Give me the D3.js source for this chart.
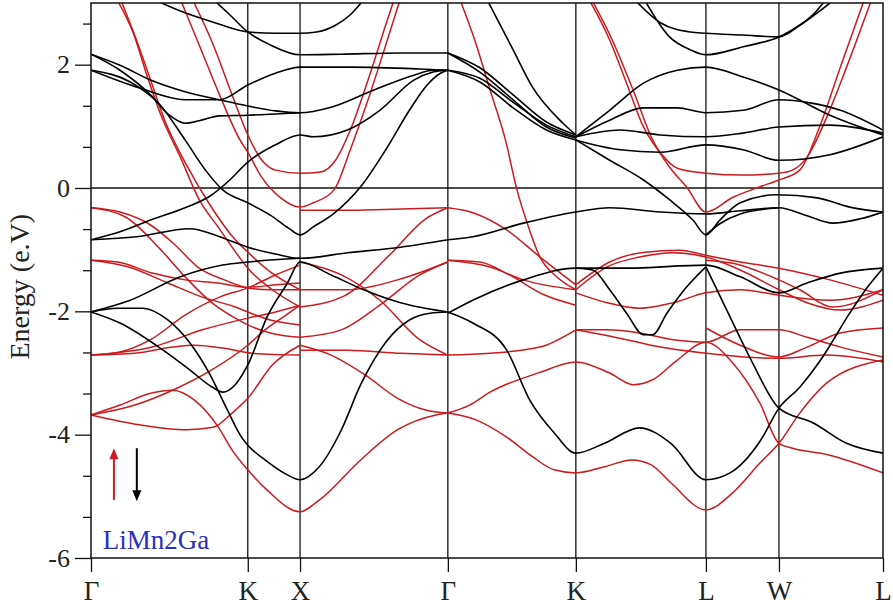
<!DOCTYPE html>
<html><head><meta charset="utf-8">
<script src="https://cdn.jsdelivr.net/npm/d3@7/dist/d3.min.js"></script>
<style>body{margin:0;background:#fff}svg{display:block}</style>
</head><body>
<svg id="chart" width="893" height="613"></svg>
<script>
// ---------- data ----------
const kLabels = ["Γ","K","X","Γ","K","L","W","L"];
const segLengths = [1.0607, 0.3536, 1.0, 0.866, 0.88, 0.494, 0.704];
const yMajorTicks = [-6, -4, -2, 0, 2];
const yDomain = [-6, 3];
const materialLabel = "LiMn2Ga";
const yTitle = "Energy (e.V)";

// each band: [pathParam t (0..7, one unit per segment), energy eV]
const spinUp = [
 [[.16,3.08],[.27,2.51],[.36,1.80],[.44,1.22],[.57,0.50],[.69,-0.19],[.81,-0.63],[.96,-1.17],[1,-1.30],[1.47,-1.65],[2,-1.93]],
 [[.185,3.08],[.29,2.40],[.38,1.75],[.47,1.10],[.61,0.37],[.76,-0.28],[.92,-0.84],[1,-1.04],[1.43,-1.36],[2,-1.65]],
 [[.567,3.08],[.69,2.32],[.82,1.51],[.95,0.78],[1,0.58],[1.24,0.21],[1.63,-0.16],[2,-0.31],[2.09,-0.24],[2.23,-0.03],[2.34,0.62],[2.46,1.43],[2.58,2.32],[2.68,3.08]],
 [[.643,3.08],[.78,2.32],[.90,1.51],[1,0.86],[1.27,0.45],[1.53,0.29],[2,0.24],[2.14,0.26],[2.24,0.45],[2.34,0.94],[2.46,1.75],[2.59,2.72],[2.64,3.08]],
 [[2,-0.36],[2.34,-0.36],[2.68,-0.34],[3,-0.32]],
 [[0,-0.32],[.185,-0.39],[.38,-0.60],[.535,-0.92],[.69,-1.30],[.85,-1.49],[1,-1.62],[1.43,-1.65],[2,-1.65]],
 [[0,-0.32],[.22,-0.47],[.43,-0.96],[.60,-1.44],[.77,-1.86],[.94,-2.14],[1,-2.22],[1.43,-2.35],[2,-2.42]],
 [[0,-1.17],[.17,-1.20],[.39,-1.38],[.60,-1.49],[.81,-1.54],[1,-1.61],[1.53,-1.57],[2,-1.54]],
 [[0,-1.17],[.24,-1.28],[.49,-1.54],[.71,-1.77],[.92,-1.93],[1,-2.01],[1.43,-2.14],[2,-2.22]],
 [[0,-2.71],[.185,-2.66],[.38,-2.46],[.60,-2.06],[.82,-1.77],[1,-1.62],[1.53,-1.41],[2,-1.25]],
 [[0,-2.71],[.28,-2.68],[.52,-2.58],[.66,-2.55],[.85,-2.60],[1.08,-2.68],[2,-2.71]],
 [[0,-2.71],[.39,-2.58],[.71,-2.30],[1,-2.11],[1.53,-2.01],[2,-1.90]],
 [[0,-3.68],[.28,-3.52],[.52,-3.28],[.77,-2.95],[1,-2.55],[1.33,-2.30],[1.73,-2.06],[2,-1.90]],
 [[0,-3.68],[.31,-3.84],[.61,-3.92],[.78,-3.88],[.90,-3.65],[1,-3.41],[1.47,-2.87],[2,-2.55]],
 [[0,-3.68],[.185,-3.52],[.38,-3.33],[.52,-3.28],[.66,-3.44],[.81,-3.87],[.90,-4.25],[1,-4.57],[1.37,-4.90],[2,-5.25],[2.13,-5.06],[2.41,-4.41],[2.66,-3.92],[2.92,-3.68],[3,-3.65]],
 [[2,-2.55],[2.21,-2.71],[2.44,-3.03],[2.66,-3.41],[2.85,-3.60],[3,-3.65]],
 [[2,-2.63],[2.32,-2.63],[2.68,-2.68],[3,-2.71]],
 [[2,-1.65],[2.32,-1.65],[2.66,-1.49],[3,-1.20]],
 [[2,-1.20],[2.28,-1.41],[2.54,-1.82],[2.81,-2.46],[3,-2.71]],
 [[2,-2.42],[2.28,-2.30],[2.54,-1.90],[2.81,-1.41],[3,-1.20]],
 [[2,-1.93],[2.3,-1.75],[2.6,-1.10],[2.85,-0.50],[3,-0.32]],
 [[3,-0.32],[3.195,-0.40],[3.46,-0.68],[3.72,-1.12],[4,-1.57]],
 [[3,-1.17],[3.33,-1.28],[3.59,-1.49],[4,-1.65]],
 [[3,-1.17],[3.25,-1.20],[3.48,-1.41],[3.76,-1.74],[4,-1.90]],
 [[3,-2.71],[3.33,-2.68],[3.72,-2.58],[4,-2.30]],
 [[3.09,3.08],[3.21,2.40],[3.33,1.59],[3.45,0.78],[3.54,-0.03],[3.62,-0.57],[3.72,-1.12],[3.85,-1.44],[4,-1.65]],
 [[3,-3.65],[3.17,-3.52],[3.33,-3.31],[3.72,-2.99],[4,-2.82],[4.26,-3.00],[4.44,-3.19],[4.59,-3.11],[4.78,-2.79],[5,-2.50],[5.37,-2.84],[5.74,-3.49],[6,-4.14],[6.13,-4.22],[6.46,-4.32],[7,-4.62]],
 [[3,-3.65],[3.22,-3.76],[3.46,-4.04],[3.67,-4.37],[3.83,-4.57],[4,-4.62],[4.22,-4.52],[4.43,-4.41],[4.58,-4.49],[4.73,-4.78],[5,-5.22],[5.37,-4.94],[5.74,-4.46],[6,-4.14],[6.2,-3.65],[6.46,-3.16],[7,-2.79]],
 [[4,-1.65],[4.24,-1.28],[4.49,-1.12],[4.75,-1.05],[5,-1.12],[5.47,-1.33],[6,-1.65],[6.27,-1.86],[6.59,-1.98],[7,-1.82]],
 [[4,-1.57],[4.26,-1.20],[4.53,-1.04],[4.80,-1.01],[5,-1.09],[5.47,-1.20],[6,-1.30],[6.49,-1.49],[7,-1.74]],
 [[4,-1.70],[4.24,-1.86],[4.49,-1.95],[4.75,-1.86],[5,-1.70],[5.47,-1.65],[6,-1.74],[6.49,-1.82],[7,-1.65]],
 [[4,-2.30],[4.24,-2.30],[4.49,-2.35],[4.75,-2.46],[5,-2.50],[5.47,-2.30],[6,-2.30],[6.27,-2.42],[6.59,-2.58],[7,-2.74]],
 [[4,-2.30],[4.39,-2.46],[4.65,-2.58],[5,-2.68],[5.51,-2.74],[6,-2.76],[6.46,-2.71],[7,-2.82]],
 [[5,-2.27],[5.47,-2.55],[6,-2.74],[6.27,-2.58],[6.59,-2.35],[7,-2.27]],
 [[5,-1.17],[5.37,-1.22],[6,-1.49],[6.2,-1.65],[6.52,-1.93],[7,-1.65]],
 [[4.09,3.1],[4.26,2.40],[4.39,1.70],[4.52,0.99],[4.65,0.57],[4.78,0.32],[5,0.24],[5.51,0.21],[6,0.24],[6.13,0.29],[6.27,0.50],[6.46,1.15],[6.65,1.96],[6.9,3.1]],
 [[4.11,3.1],[4.28,2.40],[4.44,1.59],[4.59,0.78],[4.72,0.34],[4.85,0.02],[5,-0.39],[5.37,-0.15],[5.74,0.02],[6,0.13],[6.2,0.29],[6.39,0.99],[6.59,1.96],[6.83,3.1]]
];

const spinDown = [
 [[.38,3.08],[.60,2.84],[.79,2.68],[1,2.53],[1.53,2.51],[2,2.51],[2.11,2.53],[2.24,2.64],[2.34,2.81],[2.43,3.05]],
 [[.77,3.08],[.885,2.81],[1,2.53],[1.43,2.32],[2,2.16],[2.28,2.17],[2.68,2.19],[3,2.19]],
 [[0,2.17],[.185,1.99],[.38,1.75],[.60,1.56],[.82,1.43],[1,1.33],[1.53,1.25],[2,1.22],[2.21,1.31],[2.50,1.59],[2.77,1.83],[2.90,1.91],[3,1.91]],
 [[0,2.17],[.185,1.91],[.38,1.51],[.50,1.18],[.60,1.05],[.69,1.09],[.82,1.17],[1,1.18],[1.53,1.20],[2,1.22]],
 [[0,1.91],[.25,1.72],[.44,1.35],[.60,0.78],[.73,0.29],[.84,-0.03],[1,-0.24],[1.43,-0.44],[1.78,-0.65],[2,-0.76],[2.09,-0.63],[2.23,-0.41],[2.41,0.02],[2.59,0.66],[2.74,1.26],[2.86,1.67],[2.95,1.86],[3,1.91]],
 [[0,1.91],[.31,1.62],[.60,1.43],[.82,1.43],[1,1.67],[1.53,1.86],[2,1.96],[2.34,1.96],[2.81,1.93],[3,1.91]],
 [[0,-0.84],[.185,-0.71],[.38,-0.52],[.60,-0.32],[.76,-0.13],[.885,0.13],[1,0.42],[1.53,0.70],[2,0.86],[2.09,0.83],[2.32,0.94],[2.54,1.26],[2.77,1.75],[2.90,1.88],[3,1.91]],
 [[0,-0.84],[.29,-0.79],[.63,-0.66],[.82,-0.79],[1,-0.96],[1.53,-1.07],[2,-1.14],[2.32,-1.05],[2.68,-0.96],[3,-0.84]],
 [[0,-2.01],[.185,-2.19],[.46,-2.63],[.63,-2.95],[.78,-3.24],[.84,-3.31],[.92,-3.19],[1,-2.87],[1.37,-2.09],[1.76,-1.54],[2,-1.20],[2.21,-1.41],[2.43,-1.65],[2.68,-1.86],[3,-2.01]],
 [[0,-2.01],[.17,-1.95],[.33,-1.95],[.49,-2.14],[.63,-2.51],[.76,-3.03],[.87,-3.60],[.96,-4.04],[1,-4.17],[1.33,-4.41],[1.73,-4.64],[2,-4.73],[2.13,-4.52],[2.28,-3.92],[2.41,-3.19],[2.58,-2.50],[2.74,-2.14],[2.88,-2.03],[3,-2.01]],
 [[0,-2.01],[.25,-1.82],[.57,-1.44],[.84,-1.25],[1,-1.20],[2,-1.14]],
 [[3,-2.01],[3.195,-2.19],[3.46,-2.63],[3.64,-3.44],[3.83,-3.97],[4,-4.30],[4.22,-4.14],[4.49,-3.89],[4.73,-4.14],[5,-4.73],[5.33,-4.62],[5.75,-4.09],[6,-3.57],[6.2,-3.23],[6.42,-2.74],[6.68,-2.03],[6.85,-1.61],[7,-1.30]],
 [[5,-1.28],[5.33,-2.09],[5.64,-2.84],[6,-3.57],[6.33,-3.81],[6.65,-4.14],[7,-4.30]],
 [[3,-0.84],[3.195,-0.79],[3.59,-0.57],[4,-0.39],[4.26,-0.32],[4.65,-0.39],[5,-0.42],[5.47,-0.37],[6,-0.32],[6.27,-0.45],[6.52,-0.57],[6.78,-0.50],[7,-0.39]],
 [[4,0.78],[4.26,0.45],[4.52,0.13],[4.72,-0.19],[4.90,-0.52],[5,-0.76],[5.19,-0.52],[5.47,-0.24],[5.97,-0.11],[6.37,-0.16],[6.68,-0.31],[7,-0.39]],
 [[5,-0.76],[5.19,-0.58],[5.47,-0.42],[6,-0.32]],
 [[3,-2.03],[3.195,-1.82],[3.59,-1.49],[4,-1.30],[4.39,-1.30],[5,-1.25],[5.47,-1.44],[6,-1.70],[6.27,-1.54],[6.59,-1.38],[7,-1.30]],
 [[4,-1.30],[4.13,-1.33],[4.26,-1.65],[4.39,-2.03],[4.52,-2.38],[4.59,-2.38],[4.70,-2.03],[4.85,-1.61],[5,-1.28]],
 [[3,2.19],[3.25,1.95],[3.51,1.51],[3.77,1.07],[4,0.86]],
 [[3,2.19],[3.25,1.88],[3.51,1.43],[3.77,0.99],[4,0.81]],
 [[3,1.91],[3.25,1.78],[3.51,1.39],[3.77,1.02],[4,0.83]],
 [[3,1.91],[3.25,1.72],[3.51,1.30],[3.77,0.94],[4,0.78]],
 [[3.30,3.08],[3.41,2.64],[3.51,2.24],[3.66,1.64],[3.9,1.05],[4,0.86]],
 [[4,0.83],[4.26,1.26],[4.52,1.70],[4.78,1.91],[5,1.96],[5.51,1.80],[6,1.59],[6.49,1.18],[7,0.86]],
 [[4,0.83],[4.26,1.10],[4.52,1.30],[4.78,1.30],[5,1.22],[5.51,1.26],[6,1.43],[6.30,1.38],[6.59,1.26],[7,0.94]],
 [[4,0.83],[4.34,0.94],[4.65,0.86],[5,0.83],[5.51,0.89],[6,0.99],[6.49,1.02],[7,0.89]],
 [[4,0.78],[4.34,0.62],[4.65,0.58],[5,0.70],[5.51,0.62],[6,0.45],[6.49,0.54],[7,0.83]],
 [[4.44,3.08],[4.65,2.68],[4.88,2.53],[5,2.51],[5.51,2.48],[6,2.45],[6.2,2.64],[6.35,2.85],[6.46,3.08]],
 [[4.52,3.08],[4.72,2.45],[4.88,2.24],[5,2.16],[5.51,2.29],[6,2.45],[6.22,2.66],[6.4,2.88],[6.55,3.08]]
];

// ---------- layout ----------
const svg = d3.select("#chart");
const pL = 91, pR = 883, pT = 3, pB = 558;
const kNodes = [0, ...d3.cumsum(segLengths)];
const x = d3.scaleLinear().domain([0, kNodes[kNodes.length-1]]).range([pL, pR]);
const y = d3.scaleLinear().domain(yDomain).range([pB, pT]);
const t2k = d3.scaleLinear().domain(d3.range(kNodes.length)).range(kNodes);
const font = "'Liberation Serif','Times New Roman',serif";
const red = "#cc1a1e";

svg.append("defs").append("clipPath").attr("id","clip")
  .append("rect").attr("x",pL).attr("y",pT).attr("width",pR-pL).attr("height",pB-pT);

svg.append("g").selectAll("line").data(kNodes.slice(1,-1)).join("line")
  .attr("x1",d=>x(d)).attr("x2",d=>x(d)).attr("y1",pT).attr("y2",pB)
  .attr("stroke","#111").attr("stroke-width",1.3);
svg.append("line").attr("x1",pL).attr("x2",pR).attr("y1",y(0)).attr("y2",y(0))
  .attr("stroke","#111").attr("stroke-width",1.3);

const line = d3.line().x(d=>x(t2k(d[0]))).y(d=>y(d[1])).curve(d3.curveMonotoneX);
const bands = svg.append("g").attr("clip-path","url(#clip)").attr("fill","none");
bands.selectAll("path.up").data(spinUp).join("path").attr("class","up")
  .attr("d",line).attr("stroke",red).attr("stroke-width",1.5);
bands.selectAll("path.dn").data(spinDown).join("path").attr("class","dn")
  .attr("d",line).attr("stroke","#000").attr("stroke-width",1.6);

svg.append("rect").attr("x",pL).attr("y",pT).attr("width",pR-pL).attr("height",pB-pT)
  .attr("fill","none").attr("stroke","#111").attr("stroke-width",1.5);

const minorTicks = d3.range(yDomain[0], yDomain[1]+0.01, 2/3).filter(v=>!yMajorTicks.some(m=>Math.abs(m-v)<1e-6));
const gMinor = svg.append("g").attr("transform",`translate(${pL},0)`)
  .call(d3.axisLeft(y).tickValues(minorTicks).tickSize(8).tickFormat(""));
const gY = svg.append("g").attr("transform",`translate(${pL},0)`)
  .call(d3.axisLeft(y).tickValues(yMajorTicks).tickSize(16).tickPadding(5).tickFormat(d=>d<0?"-"+Math.abs(d):d));
const gX = svg.append("g").attr("transform",`translate(0,${pB})`)
  .call(d3.axisBottom(x).tickValues(kNodes).tickSize(14).tickPadding(9).tickFormat((d,i)=>kLabels[i]));
[gMinor,gY,gX].forEach(g=>{ g.select(".domain").remove();
  g.selectAll(".tick line").attr("stroke","#111").attr("stroke-width",1.3); });
gY.selectAll("text").attr("font-family",font).attr("font-size",26).attr("fill","#222");
gX.selectAll("text").attr("font-family",font).attr("font-size",27).attr("fill","#222");

svg.append("text").attr("transform",`translate(29,${y(-1.6)}) rotate(-90)`)
  .attr("text-anchor","middle").attr("font-family",font).attr("font-size",28).attr("fill","#222")
  .text(yTitle);

function arrow(kx, e0, e1, color){
  const g = svg.append("g");
  const xp = x(kx), y0 = y(e0), y1 = y(e1), dir = Math.sign(y1-y0);
  g.append("line").attr("x1",xp).attr("x2",xp).attr("y1",y0).attr("y2",y1-dir*8)
    .attr("stroke",color).attr("stroke-width",2);
  g.append("path").attr("d",`M${xp-4.5},${y1-dir*11}L${xp+4.5},${y1-dir*11}L${xp},${y1}Z`).attr("fill",color);
}
arrow(0.155, -5.06, -4.22, red);
arrow(0.31, -4.22, -5.08, "#000");

svg.append("text").attr("x",x(0.08)).attr("y",y(-5.85)).attr("font-family",font).attr("font-size",27)
  .attr("fill","#2b30c0").text(materialLabel);
</script>
</body></html>
